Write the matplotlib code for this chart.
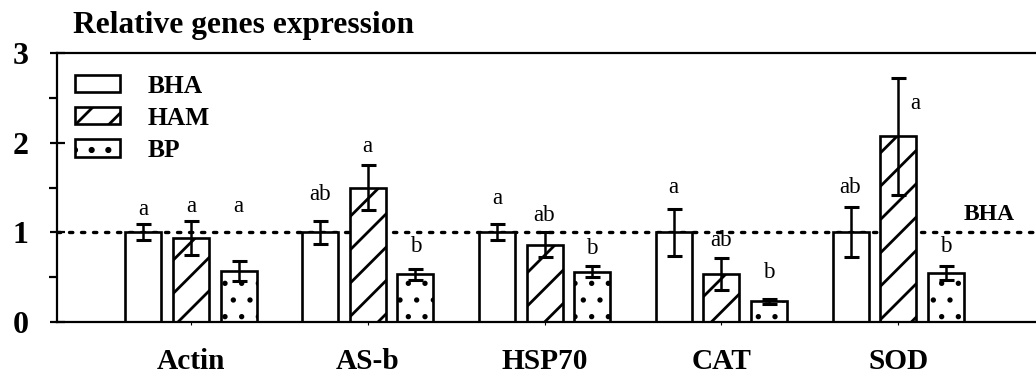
import matplotlib
matplotlib.use('Agg')
import matplotlib.pyplot as plt
import numpy as np

# ── Datos ─────────────────────────────────────────────────────────────────────
genes = ['Actin', 'AS-b', 'HSP70', 'CAT', 'SOD']
grupos = ['BHA', 'HAM', 'BP']

bha_media = [1.00, 1.00, 1.00, 1.00, 1.00]
bha_error = [0.09, 0.13, 0.09, 0.26, 0.28]
ham_media = [0.94, 1.50, 0.86, 0.535, 2.07]
ham_error = [0.19, 0.25, 0.14, 0.18, 0.65]
bp_media = [0.57, 0.53, 0.56, 0.23, 0.55]
bp_error = [0.11, 0.06, 0.06, 0.03, 0.08]

bha_letras = ['a', 'ab', 'a', 'a', 'ab']
ham_letras = ['a', 'a', 'ab', 'ab', 'a']
bp_letras = ['a', 'b', 'b', 'b', 'b']

# altura de cada letra de significancia
bha_letra_y = [1.25, 1.42, 1.38, 1.50, 1.50]
ham_letra_y = [1.285, 1.96, 1.19, 0.91, 2.44]
bp_letra_y = [1.285, 0.84, 0.82, 0.55, 0.84]

# ── Estilo ────────────────────────────────────────────────────────────────────
plt.rcParams.update({
    'font.family': ['Liberation Serif', 'DejaVu Serif'],
    'hatch.linewidth': 1.0,
    'hatch.color': 'black',
    'axes.linewidth': 0.8,
})

# figura a 200 dpi para controlar el espaciado del rayado
fig = plt.figure(figsize=(5.18, 1.875), dpi=200)
ax = fig.add_axes([0.055, 0.1413, 0.945, 0.7173])

x = np.arange(len(genes))
ancho = 0.204
paso = 0.269

series = [
    (bha_media, bha_error, bha_letras, bha_letra_y, ''),
    (ham_media, ham_error, ham_letras, ham_letra_y, '//'),
    (bp_media, bp_error, bp_letras, bp_letra_y, '..'),
]

for i, (media, err, letras, letra_y, rayado) in enumerate(series):
    pos = x + (i - 1) * paso
    barras = ax.bar(pos, media, width=ancho, color='white', edgecolor='black',
                    linewidth=0.95, hatch=rayado, label=grupos[i], zorder=2)
    if rayado == '..':
        for b in barras:
            try:
                b.set_hatch_linewidth(0.7)
            except AttributeError:
                pass
    ax.errorbar(pos, media, yerr=err, fmt='none', ecolor='black',
                elinewidth=0.9, capsize=2.7, capthick=1.1, zorder=3)
    for j, (p, letra) in enumerate(zip(pos, letras)):
        dx = 0.095 if (i == 1 and genes[j] == 'SOD') else 0
        ax.text(p + dx, letra_y[j], letra, ha='center', va='center',
                fontsize=8.3, zorder=4)

# línea de referencia BHA
ax.axhline(1.0, color='black', linewidth=1.2, linestyle=(0, (1, 2.6)),
           dash_capstyle='round', zorder=1)
ax.text(0.978, 1.14, 'BHA', transform=ax.get_yaxis_transform(),
        ha='right', va='baseline', fontsize=8.5, fontweight='bold')

# ── Ejes ──────────────────────────────────────────────────────────────────────
ax.set_xlim(-0.758, 4.78)
ax.set_ylim(0, 3)
ax.spines['right'].set_visible(False)
for s in ['left', 'top', 'bottom']:
    ax.spines[s].set_linewidth(0.8)

ax.set_yticks([0, 1, 2, 3])
ax.set_yticks([0.5, 1.5, 2.5], minor=True)
ax.tick_params(axis='y', which='major', direction='inout', length=5.4,
               width=0.8, pad=7.6, labelsize=11.5)
ax.tick_params(axis='y', which='minor', direction='out', length=2.9,
               width=0.8)
for t in ax.get_yticklabels():
    t.set_fontweight('bold')

ax.set_xticks(x)
ax.set_xticklabels(genes, fontsize=10.6, fontweight='bold')
ax.tick_params(axis='x', direction='out', length=1.2, width=0.4, pad=8.2)

leg = ax.legend(loc='upper left', bbox_to_anchor=(0.018, 0.92),
                frameon=False, fontsize=9.2, handlelength=1.76,
                handleheight=0.66, handletextpad=1.09, labelspacing=0.36,
                borderpad=0, borderaxespad=0)
for t in leg.get_texts():
    t.set_fontweight('bold')

fig.text(0.0705, 0.912, 'Relative genes expression', ha='left',
         va='baseline', fontsize=11.3, fontweight='bold')

fig.savefig('out.png', dpi=200)
